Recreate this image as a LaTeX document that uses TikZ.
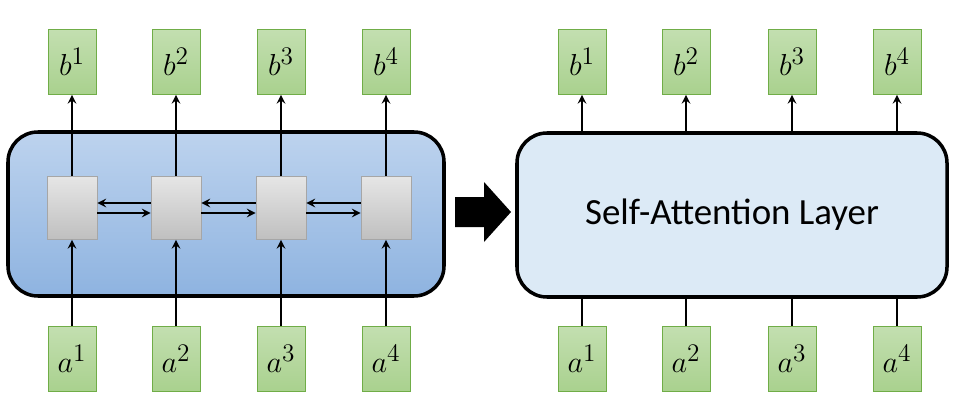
\documentclass[tikz,border=0pt]{standalone}
\usepackage{fontspec}
\newfontfamily\calib{Carlito}
\usetikzlibrary{positioning}
\definecolor{grnf}{HTML}{A9D18E}
\definecolor{grnd}{HTML}{70AD47}
\definecolor{bluet}{HTML}{BDD3EE}
\definecolor{blueb}{HTML}{8EB3E0}
\definecolor{icef}{HTML}{DCEAF6}
\tikzset{
  vec/.style={draw=grnd,top color=grnf!70,bottom color=grnf,minimum width=0.96cm,minimum height=1.3cm,inner sep=0pt,font=\fontsize{19}{22}\selectfont},
  cell/.style={draw=gray!70,top color=gray!20,bottom color=gray!50,minimum width=1cm,minimum height=1.26cm,inner sep=0pt},
  flow/.style={line width=1.2pt,-stealth}
}
\begin{document}
\begin{tikzpicture}[x=0.02cm,y=-0.02cm]
\useasboundingbox (0,0) rectangle (964,409);
% left: RNN
\draw[line width=2pt,rounded corners=0.6cm,top color=bluet,bottom color=blueb] (8,132) rectangle (444,296);
% right: self-attention
\draw[line width=2pt,rounded corners=0.6cm,fill=icef] (517,133) rectangle (947,297);
\node[font=\calib\fontsize{21}{24}\selectfont] (sal) at (732,215) {Self-Attention Layer};
% big arrow
\fill[black] (455,197) -- (484,197) -- (484,182) -- (511,212) -- (484,242) -- (484,227) -- (455,227) -- cycle;
\foreach \i/\x/\y in {1/72/582,2/176/686,3/281/792,4/386/897}{
  \node[vec] (a\i) at (\x,359) {$a^{\i}$};
  \node[vec] (b\i) at (\x,62) {$b^{\i}$};
  \node[cell] (h\i) at (\x,208) {};
  \draw[flow] (a\i) -- (h\i);
  \draw[flow] (h\i) -- (b\i);
  \node[vec] (sa\i) at (\y,359) {$a^{\i}$};
  \node[vec] (sb\i) at (\y,62) {$b^{\i}$};
  \coordinate (bot\i) at (\y,297);
  \coordinate (top\i) at (\y,133);
  \draw[line width=1.2pt] (sa\i) -- (bot\i);
  \draw[flow] (top\i) -- (sb\i);
}
\foreach \i/\j in {1/2,2/3,3/4}{
  \draw[flow] ([yshift=0.1cm]h\j.west) -- ([yshift=0.1cm]h\i.east);
  \draw[flow] ([yshift=-0.1cm]h\i.east) -- ([yshift=-0.1cm]h\j.west);
}
\end{tikzpicture}
\end{document}
